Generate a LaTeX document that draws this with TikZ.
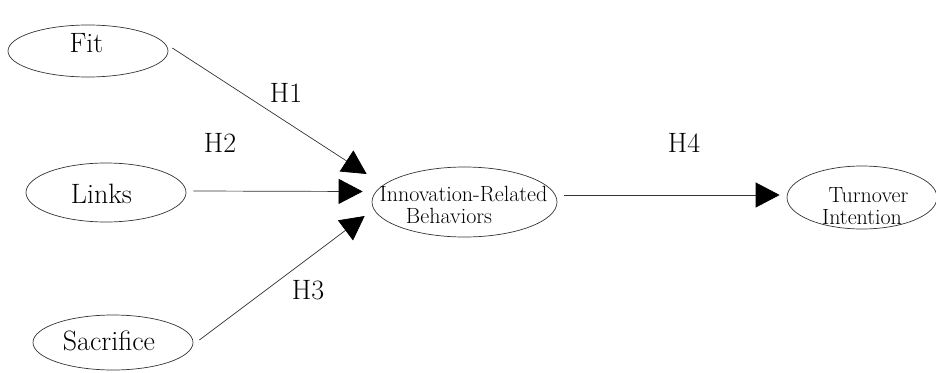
\documentclass[tikz,border=0pt]{standalone}
\usetikzlibrary{arrows.meta,shapes.geometric}
\tikzset{
  construct/.style={draw=black!80, line width=0.7pt, ellipse, inner sep=0pt},
  bigtext/.style={font=\fontsize{28}{32}\selectfont, inner sep=0pt, anchor=base},
  smalltext/.style={font=\fontsize{22}{26}\selectfont, inner sep=0pt, anchor=base},
  hyp/.style={draw=black!80, line width=0.7pt,
    -{Triangle[length=24pt,width=25pt,color=black]}},
}
\begin{document}
\begin{tikzpicture}[x=1pt,y=-1pt]
  \useasboundingbox (0,0) rectangle (936,372);

  % constructs
  \node[construct, minimum width=160pt, minimum height=52pt] (fit) at (88,51) {};
  \node[construct, minimum width=160pt, minimum height=59pt] (links) at (106,192.5) {};
  \node[construct, minimum width=160pt, minimum height=55pt] (sac) at (113,342.5) {};
  \node[construct, minimum width=185pt, minimum height=70pt] (irb) at (464.5,202) {};
  \node[construct, minimum width=150pt, minimum height=63pt] (ti) at (862,197.5) {};

  % construct names
  \node[bigtext] (fitlbl) at (86.5,52) {Fit};
  \node[bigtext] (linkslbl) at (101.5,203) {Links};
  \node[bigtext] (saclbl) at (109,350) {Sacrifice};
  \node[smalltext] (irblbla) at (463.5,201) {Innovation-Related};
  \node[smalltext] (irblblb) at (449,223) {Behaviors};
  \node[smalltext] (tilbla) at (868.5,202) {Turnover};
  \node[smalltext] (tilblb) at (862,224) {Intention};

  % arrow ends
  \coordinate (t1) at ([shift={(-5,-28)}]irb.west);
  \coordinate (t2) at ([shift={(-9,-10.5)}]irb.west);
  \coordinate (t3) at ([shift={(-7,14)}]irb.west);
  \coordinate (t4) at ([shift={(-7,-2.5)}]ti.west);

  % hypothesised paths
  \draw[hyp] ([shift={(4,-3)}]fit.east) -- (t1);
  \draw[hyp] ([shift={(7,-1.5)}]links.east) -- (t2);
  \draw[hyp] ([shift={(6,-2.5)}]sac.east) -- (t3);
  \draw[hyp] ([shift={(7,-7)}]irb.east) -- (t4);

  % path labels
  \node[bigtext] (h1) at (286,102) {H1};
  \node[bigtext] (h2) at (220,152.5) {H2};
  \node[bigtext] (h3) at (308,299) {H3};
  \node[bigtext] (h4) at (684,152) {H4};
\end{tikzpicture}
\end{document}
